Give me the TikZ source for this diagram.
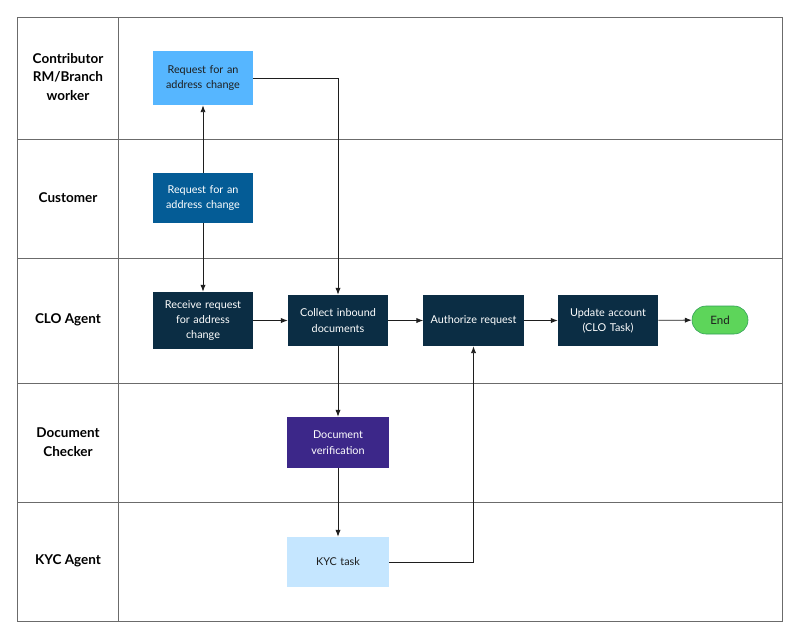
\documentclass[tikz,border=0pt]{standalone}
\usepackage{fontspec}
\setmainfont{Lato}
\usepackage{xcolor}
\usepackage{tikz}
\usetikzlibrary{positioning,arrows.meta}

\definecolor{gridgray}{HTML}{6B6B6B}
\definecolor{contribblue}{HTML}{56B6FF}
\definecolor{custblue}{HTML}{045C96}
\definecolor{cloNavy}{HTML}{0B2D44}
\definecolor{docPurple}{HTML}{3C2789}
\definecolor{kycBlue}{HTML}{C5E6FF}
\definecolor{endGreen}{HTML}{5DD55A}
\definecolor{endBorder}{HTML}{2F9E55}
\definecolor{inkdark}{HTML}{1E1E1E}

\begin{document}
\begin{tikzpicture}[x=0.025cm, y=-0.025cm,
  box/.style={minimum width=2.5cm, minimum height=1.275cm, align=center,
    inner sep=1pt, text width=2.4cm,
    font=\fontsize{7.7}{10.9}\selectfont},
  lane/.style={align=center, font=\fontsize{9.6}{13.2}\selectfont\bfseries},
  flow/.style={-{Latex[length=1.7mm,width=1.3mm]}, line width=0.6pt, inkdark}]

\useasboundingbox (0,0) rectangle (800,639);

% swimlanes
\draw[gridgray, line width=0.7pt] (17,17) rectangle (782,621);
\draw[gridgray, line width=0.7pt] (118,17) -- (118,621);
\foreach \y in {139,258,383,502}
	\draw[gridgray, line width=0.7pt] (17,\y) -- (782,\y);

\node[lane](lcontrib) at (68,77) {Contributor\\RM/Branch\\worker};
\node[lane](lcust) at (68,198) {Customer};
\node[lane](lclo) at (68,320) {CLO Agent};
\node[lane](ldoc) at (68,442) {Document\\Checker};
\node[lane](lkyc) at (68,561) {KYC Agent};

% steps
\node[box, fill=contribblue, text=inkdark, minimum height=1.35cm](contrib) at (203,78) {Request for an\\address change};
\node[box, fill=custblue, text=white, minimum height=1.25cm](cust) at (203,198) {Request for an\\address change};
\node[box, fill=cloNavy, text=white, minimum height=1.425cm](recv) at (203,320.5) {Receive request\\for address\\change};
\node[box, fill=cloNavy, text=white](collect) at (338,320.5) {Collect inbound\\documents};
\node[box, fill=cloNavy, text=white](auth) at (473.5,320.5) {Authorize request};
\node[box, fill=cloNavy, text=white](upd) at (608,320.5) {Update account\\(CLO Task)};
\node[draw=endBorder, fill=endGreen, rounded corners=0.35cm, minimum width=1.4cm,
  minimum height=0.7cm, font=\fontsize{8.2}{10}\selectfont, text=inkdark](end) at (720,320) {End};
\node[box, fill=docPurple, text=white, minimum width=2.55cm](docv) at (338,442.5) {Document\\verification};
\node[box, fill=kycBlue, text=inkdark, minimum width=2.55cm, minimum height=1.25cm](kyc) at (338,562) {KYC task};

% connectors
\draw[flow] (cust) -- (contrib);
\draw[flow] (contrib.east) -| (collect.north);
\draw[flow] (cust) -- (recv);
\draw[flow] (recv) -- (collect);
\draw[flow] (collect) -- (auth);
\draw[flow] (auth) -- (upd);
\draw[flow] (upd) -- (end);
\draw[flow] (collect) -- (docv);
\draw[flow] (docv) -- (kyc);
\draw[flow] (kyc.east) -| (auth.south);

\end{tikzpicture}
\end{document}
